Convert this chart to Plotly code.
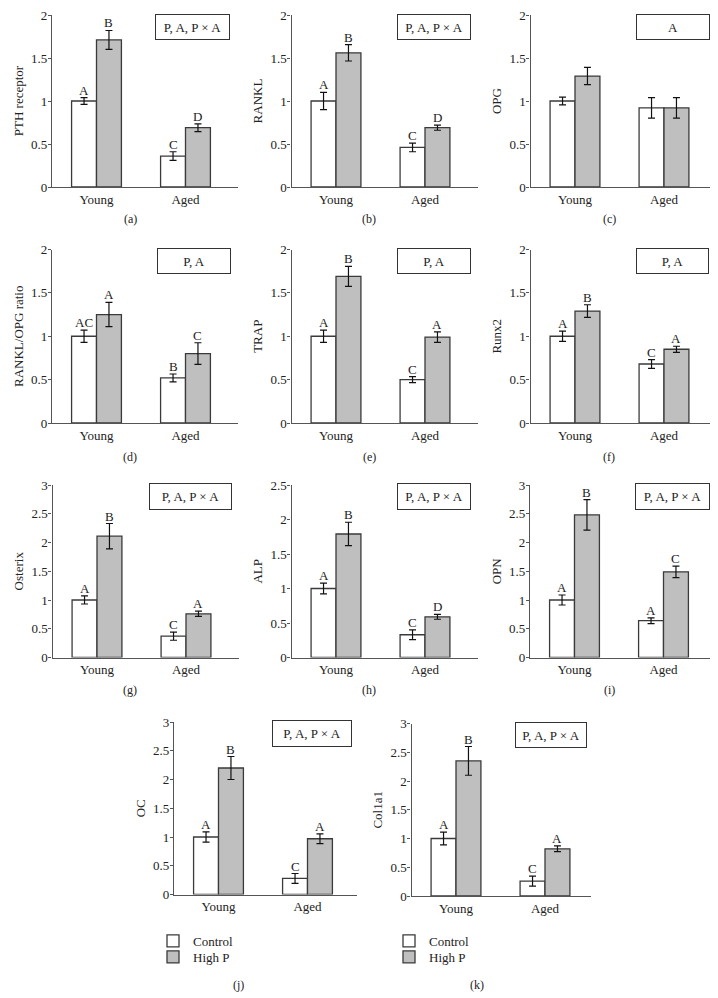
import plotly.graph_objects as go

# ---------------- data ----------------
groups = ["Young", "Aged"]
series_names = ["Control", "High P"]

panel_ids = ["a", "b", "c", "d", "e", "f", "g", "h", "i", "j", "k"]
y_titles = ["PTH receptor", "RANKL", "OPG", "RANKL/OPG ratio", "TRAP", "Runx2",
            "Osterix", "ALP", "OPN", "OC", "Col1a1"]
effects = ["P, A, P × A", "P, A, P × A", "A", "P, A", "P, A", "P, A",
           "P, A, P × A", "P, A, P × A", "P, A, P × A", "P, A, P × A", "P, A, P × A"]
y_max = [2, 2, 2, 2, 2, 2, 3, 2.5, 3, 3, 3]

pth_control = [1.00, 0.36]; pth_control_err = [0.04, 0.05]
pth_highp = [1.71, 0.69]; pth_highp_err = [0.11, 0.045]
pth_control_let = ["A", "C"]; pth_highp_let = ["B", "D"]

rankl_control = [1.00, 0.46]; rankl_control_err = [0.10, 0.05]
rankl_highp = [1.56, 0.69]; rankl_highp_err = [0.095, 0.03]
rankl_control_let = ["A", "C"]; rankl_highp_let = ["B", "D"]

opg_control = [1.00, 0.92]; opg_control_err = [0.045, 0.12]
opg_highp = [1.29, 0.92]; opg_highp_err = [0.10, 0.12]
opg_control_let = ["", ""]; opg_highp_let = ["", ""]

ratio_control = [1.00, 0.52]; ratio_control_err = [0.07, 0.045]
ratio_highp = [1.25, 0.80]; ratio_highp_err = [0.14, 0.125]
ratio_control_let = ["AC", "B"]; ratio_highp_let = ["A", "C"]

trap_control = [1.00, 0.50]; trap_control_err = [0.07, 0.035]
trap_highp = [1.69, 0.99]; trap_highp_err = [0.115, 0.06]
trap_control_let = ["A", "C"]; trap_highp_let = ["B", "A"]

runx2_control = [1.00, 0.68]; runx2_control_err = [0.06, 0.05]
runx2_highp = [1.29, 0.85]; runx2_highp_err = [0.073, 0.035]
runx2_control_let = ["A", "C"]; runx2_highp_let = ["B", "A"]

osterix_control = [1.00, 0.37]; osterix_control_err = [0.07, 0.07]
osterix_highp = [2.11, 0.76]; osterix_highp_err = [0.22, 0.046]
osterix_control_let = ["A", "C"]; osterix_highp_let = ["B", "A"]

alp_control = [1.00, 0.33]; alp_control_err = [0.077, 0.07]
alp_highp = [1.79, 0.59]; alp_highp_err = [0.17, 0.036]
alp_control_let = ["A", "C"]; alp_highp_let = ["B", "D"]

opn_control = [1.00, 0.64]; opn_control_err = [0.087, 0.05]
opn_highp = [2.48, 1.49]; opn_highp_err = [0.265, 0.10]
opn_control_let = ["A", "A"]; opn_highp_let = ["B", "C"]

oc_control = [1.00, 0.28]; oc_control_err = [0.09, 0.085]
oc_highp = [2.20, 0.97]; oc_highp_err = [0.20, 0.085]
oc_control_let = ["A", "C"]; oc_highp_let = ["B", "A"]

col_control = [1.00, 0.26]; col_control_err = [0.11, 0.087]
col_highp = [2.35, 0.82]; col_highp_err = [0.25, 0.05]
col_control_let = ["A", "C"]; col_highp_let = ["B", "A"]

control_means = [pth_control, rankl_control, opg_control, ratio_control, trap_control, runx2_control,
                 osterix_control, alp_control, opn_control, oc_control, col_control]
control_errs = [pth_control_err, rankl_control_err, opg_control_err, ratio_control_err, trap_control_err,
                runx2_control_err, osterix_control_err, alp_control_err, opn_control_err, oc_control_err,
                col_control_err]
highp_means = [pth_highp, rankl_highp, opg_highp, ratio_highp, trap_highp, runx2_highp,
               osterix_highp, alp_highp, opn_highp, oc_highp, col_highp]
highp_errs = [pth_highp_err, rankl_highp_err, opg_highp_err, ratio_highp_err, trap_highp_err,
              runx2_highp_err, osterix_highp_err, alp_highp_err, opn_highp_err, oc_highp_err, col_highp_err]
control_lets = [pth_control_let, rankl_control_let, opg_control_let, ratio_control_let, trap_control_let,
                runx2_control_let, osterix_control_let, alp_control_let, opn_control_let, oc_control_let,
                col_control_let]
highp_lets = [pth_highp_let, rankl_highp_let, opg_highp_let, ratio_highp_let, trap_highp_let,
              runx2_highp_let, osterix_highp_let, alp_highp_let, opn_highp_let, oc_highp_let, col_highp_let]

# ---------------- layout geometry (window pixels) ----------------
WIN_W, WIN_H = 718, 998
OFF = 8                      # default page body margin
W, H = WIN_W - OFF, WIN_H - OFF


def px(xp):
    return (xp - OFF) / W


def py(yp):
    return 1 - (yp - OFF) / H


FONT = "Liberation Serif, Times New Roman, serif"
TXT = "#222222"
AX = "#555555"
BARLINE = "#3a3a3a"
FILLS = ["#ffffff", "#bfbfbf"]
BARGAP = 0.44
UNIT = 89.0  # px per category

# (x0, width, ytop, ybottom, label_x, label_y, box_left, box_right, box_top, box_bottom)
geom = [
    (52.0, 186, 15, 187, 130, 219, 155, 230, 14, 40),
    (291.5, 186, 15, 187, 369, 219, 397, 471, 14, 40),
    (530.5, 186, 15, 187, 609, 219, 636, 710, 14, 40),
    (52.0, 186, 249.5, 423, 130, 457, 157, 231, 248, 274),
    (291.5, 186, 249.5, 423, 369, 457, 397, 471, 248, 274),
    (530.5, 186, 249.5, 423, 609, 457, 636, 709, 248, 274),
    (52.5, 186, 485, 657.5, 130, 690, 149, 232, 483, 510),
    (291.5, 186, 485, 657.5, 369, 690, 397, 471, 483, 510),
    (530.0, 186, 485, 657.5, 609, 690, 635, 710, 483, 510),
    (174.0, 183, 722, 894.5, 238, 985, 272, 352, 720, 747),
    (411.5, 179, 723.5, 896, 477, 985, 515, 587, 722, 748),
]
# legend names per (panel, series) and their window-pixel anchors (x, y_top)
legend_slots = {("j", 0): ("legend", 153, 926), ("j", 1): ("legend3", 153, 942),
                ("k", 0): ("legend2", 389, 926), ("k", 1): ("legend4", 389, 942)}

fig = go.Figure()
annotations = []
layout_axes = {}
half = (1 - BARGAP) / 4.0

for k in range(len(panel_ids)):
    x0, wpx, yt, yb, lx, ly, bl, br, bt, bb = geom[k]
    n = "" if k == 0 else str(k + 1)
    xa, ya = "x" + n, "y" + n
    for s, (means, errs) in enumerate([(control_means[k], control_errs[k]),
                                        (highp_means[k], highp_errs[k])]):
        tr = dict(
            x=groups, y=means, name=series_names[s],
            xaxis=xa, yaxis=ya,
            marker=dict(color=FILLS[s], line=dict(color=BARLINE, width=1.3)),
            error_y=dict(type="data", array=errs, visible=True,
                         color="#111111", thickness=1.2, width=3.5),
            showlegend=False, hoverinfo="skip",
        )
        slot = legend_slots.get((panel_ids[k], s))
        if slot:
            tr["legend"] = slot[0]
            tr["showlegend"] = True
        fig.add_trace(go.Bar(**tr))
    # significance letters
    for s, (means, errs, lets) in enumerate([(control_means[k], control_errs[k], control_lets[k]),
                                              (highp_means[k], highp_errs[k], highp_lets[k])]):
        off = -half if s == 0 else half
        for i in range(len(groups)):
            if lets[i]:
                annotations.append(dict(
                    x=i + off, y=means[i] + errs[i], xref=xa, yref=ya,
                    text=lets[i], showarrow=False, yanchor="bottom", xanchor="center",
                    font=dict(family=FONT, size=13, color=TXT), yshift=-2))
    # effect box
    annotations.append(dict(
        x=px((bl + br) / 2), y=py((bt + bb) / 2), xref="paper", yref="paper",
        text=effects[k], showarrow=False, xanchor="center", yanchor="middle",
        width=br - bl - 2, height=bb - bt - 2, borderpad=0,
        bordercolor="#333333", borderwidth=1, bgcolor="white",
        font=dict(family=FONT, size=13, color=TXT)))
    # panel label
    annotations.append(dict(
        x=px(lx), y=py(ly), xref="paper", yref="paper",
        text="(" + panel_ids[k] + ")", showarrow=False, xanchor="center", yanchor="middle",
        font=dict(family=FONT, size=12, color=TXT)))

    xr_right = -0.5 + wpx / UNIT
    layout_axes["xaxis" + n] = dict(
        domain=[px(x0), px(x0 + wpx)], anchor=ya, type="category",
        range=[-0.5, xr_right], showline=True, linecolor=AX, linewidth=1.2,
        ticks="", showgrid=False, zeroline=False, automargin=False,
        tickfont=dict(family=FONT, size=13, color=TXT), fixedrange=True)
    layout_axes["yaxis" + n] = dict(
        domain=[py(yb), py(yt)], anchor=xa, range=[0, y_max[k]], dtick=0.5,
        showline=True, linecolor=AX, linewidth=1.2, ticks="outside", ticklen=3,
        ticklabelstandoff=-2, ticklabeloverflow="allow",
        tickcolor=AX, tickwidth=1, showgrid=False, zeroline=False, automargin=False,
        tickfont=dict(family=FONT, size=13, color=TXT),
        title=dict(text=y_titles[k], font=dict(family=FONT, size=13, color=TXT), standoff=4),
        fixedrange=True)

legend_style = dict(xanchor="left", yanchor="top", font=dict(family=FONT, size=13, color=TXT),
                    bgcolor="rgba(0,0,0,0)", tracegroupgap=0, itemwidth=30)
legends = {}
for key, (lname, lxp, lyp) in legend_slots.items():
    legends[lname] = dict(x=px(lxp), y=py(lyp), **legend_style)

fig.update_layout(
    width=W, height=H, margin=dict(l=0, r=0, t=0, b=0, autoexpand=False),
    paper_bgcolor="white", plot_bgcolor="white",
    barmode="group", bargap=BARGAP, bargroupgap=0,
    annotations=annotations,
    **legends,
    **layout_axes,
)

fig.write_html("out.html")
